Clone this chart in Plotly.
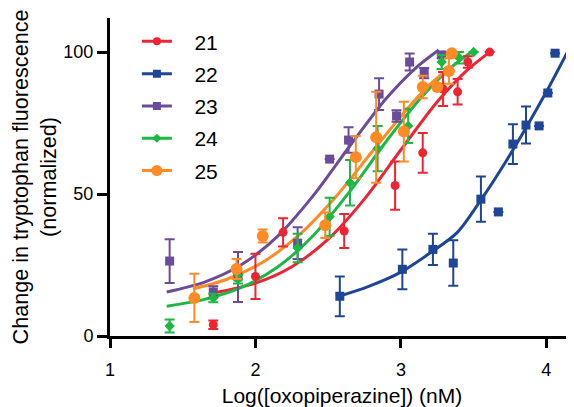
import plotly.graph_objects as go

# ---------------- data ----------------
series_names = ["21", "22", "23", "24", "25"]
colors = {"21": "#EF2432", "22": "#1F4597", "23": "#6B4C9A", "24": "#1DB844", "25": "#FF8A26"}
symbols = {"21": "circle", "22": "square", "23": "square", "24": "diamond", "25": "circle"}
msizes = {"21": 9, "22": 9, "23": 9, "24": 8, "25": 12}

# measured points (log concentration, normalized fluorescence, error)
x21 = [1.71, 2.00, 2.19, 2.61, 2.96, 3.15, 3.29, 3.39, 3.46, 3.61]
y21 = [4.0, 21.0, 36.5, 37.0, 53.0, 64.5, 87.0, 86.0, 96.5, 100.0]
e21 = [1.5, 8.0, 5.0, 6.0, 8.5, 7.0, 6.0, 4.5, 2.0, 0.0]

x22 = [2.58, 3.01, 3.22, 3.36, 3.55, 3.67, 3.77, 3.86, 3.95, 4.01, 4.06]
y22 = [14.0, 23.5, 30.5, 25.7, 48.2, 43.7, 67.6, 74.3, 74.0, 85.6, 99.6]
e22 = [7.0, 7.0, 5.5, 8.0, 8.0, 0.0, 7.0, 6.5, 0.0, 0.0, 0.0]

x23 = [1.41, 1.71, 1.88, 2.29, 2.51, 2.64, 2.85, 2.97, 3.06, 3.16, 3.28]
y23 = [26.4, 15.5, 20.8, 32.7, 62.3, 69.0, 85.2, 77.5, 96.5, 92.6, 99.0]
e23 = [7.7, 2.0, 8.8, 5.6, 0.0, 4.5, 5.6, 2.0, 3.0, 1.8, 1.0]

x24 = [1.41, 1.71, 1.88, 2.29, 2.51, 2.65, 2.84, 3.05, 3.28, 3.40, 3.50]
y24 = [3.5, 13.4, 20.0, 31.0, 42.0, 54.0, 66.0, 74.0, 96.5, 98.0, 100.0]
e24 = [2.3, 1.5, 1.5, 5.0, 6.7, 8.0, 8.0, 6.0, 2.5, 2.0, 0.0]

x25 = [1.58, 1.87, 2.05, 2.48, 2.69, 2.83, 3.02, 3.15, 3.25, 3.33, 3.35]
y25 = [13.4, 23.6, 35.2, 39.0, 63.0, 70.0, 72.0, 87.7, 87.7, 93.3, 99.6]
e25 = [8.5, 3.5, 2.3, 4.5, 7.4, 16.0, 10.5, 4.0, 0.0, 4.5, 0.0]

# fitted curves
cx21 = [1.71, 2.00, 2.25, 2.50, 2.75, 3.00, 3.25, 3.45, 3.61]
cy21 = [15.1, 18.6, 24.4, 34.1, 48.3, 65.6, 82.5, 93.4, 100.0]

cx22 = [2.58, 2.77, 3.00, 3.20, 3.39, 3.55, 3.77, 4.00, 4.19]
cy22 = [14.1, 17.3, 22.5, 29.2, 36.6, 47.9, 65.5, 86.0, 104.5]

cx23 = [1.39, 1.65, 1.90, 2.15, 2.40, 2.65, 2.90, 3.10, 3.26]
cy23 = [15.5, 19.0, 25.0, 35.0, 49.6, 67.0, 83.7, 94.3, 100.7]

cx24 = [1.39, 1.65, 1.90, 2.15, 2.40, 2.65, 2.90, 3.15, 3.35, 3.49]
cy24 = [10.5, 12.9, 17.0, 24.2, 35.5, 51.0, 68.6, 84.6, 94.8, 100.2]

cx25 = [1.57, 1.80, 2.05, 2.30, 2.55, 2.80, 3.05, 3.20, 3.34]
cy25 = [16.6, 19.9, 26.0, 35.6, 48.9, 64.8, 80.4, 88.6, 94.9]

x_ticks = [1, 2, 3, 4]
y_ticks = [0, 50, 100]
x_title = "Log([oxopiperazine]) (nM)"
y_title = "Change in tryptophan fluorescence<br>(normalized)"

points = {"21": (x21, y21, e21), "22": (x22, y22, e22), "23": (x23, y23, e23),
          "24": (x24, y24, e24), "25": (x25, y25, e25)}
curves = {"21": (cx21, cy21), "22": (cx22, cy22), "23": (cx23, cy23),
          "24": (cx24, cy24), "25": (cx25, cy25)}

FONT = "Arial, Liberation Sans, sans-serif"
NBSP = "\u00a0"

fig = go.Figure()

for name in series_names:
    cx, cy = curves[name]
    fig.add_trace(go.Scatter(
        x=cx, y=cy, mode="lines", line=dict(color=colors[name], width=3, shape="spline", smoothing=0.8),
        showlegend=False, hoverinfo="skip"))

for name in series_names:
    px, py, pe = points[name]
    fig.add_trace(go.Scatter(
        x=px, y=py, mode="markers",
        marker=dict(color=colors[name], symbol=symbols[name], size=msizes[name], line=dict(width=0)),
        error_y=dict(type="data", array=pe, visible=True, color=colors[name], thickness=2, width=5),
        showlegend=False))

# legend entries
for name in series_names:
    fig.add_trace(go.Scatter(
        x=[None], y=[None], mode="lines+markers", name=NBSP * 3 + name, legendgroup=name,
        line=dict(color=colors[name], width=3),
        marker=dict(color=colors[name], symbol=symbols[name], size=msizes[name] - 1)))

fig.update_layout(
    width=574, height=407,
    margin=dict(l=102, r=8, t=10, b=79),
    paper_bgcolor="white", plot_bgcolor="white",
    font=dict(family=FONT, color="black", size=18),
    showlegend=True,
    legend=dict(x=0.058, y=0.99, xanchor="left", yanchor="top",
                font=dict(size=21, family=FONT, color="black"), tracegroupgap=2,
                bgcolor="rgba(0,0,0,0)", itemsizing="trace"),
    xaxis=dict(range=[1, 4.19], tickvals=x_ticks, ticks="outside", ticklen=9, tickwidth=3,
               showline=True, linewidth=3, linecolor="black", tickcolor="black",
               showgrid=False, zeroline=False, tickfont=dict(size=18), automargin=False,
               ticklabelstandoff=6,
               title=dict(text=x_title, font=dict(size=21), standoff=10)),
    yaxis=dict(range=[0, 112], tickvals=y_ticks, ticks="outside", ticklen=10, tickwidth=3,
               showline=True, linewidth=3, linecolor="black", tickcolor="black",
               showgrid=False, zeroline=False, tickfont=dict(size=18), automargin=False,
               title=dict(text=y_title, font=dict(size=21.6), standoff=5)),
)

fig.write_html("out.html")
